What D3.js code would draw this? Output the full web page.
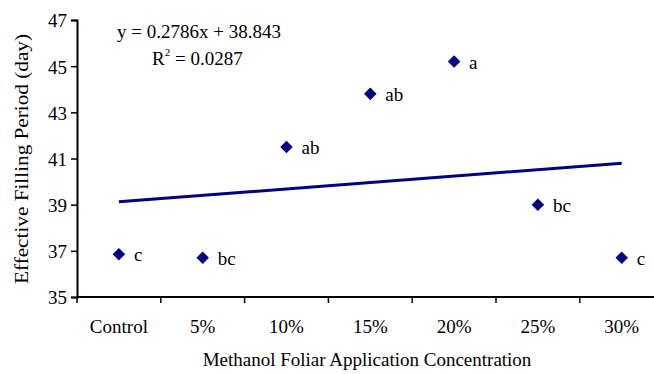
<!DOCTYPE html>
<html>
<head>
<meta charset="utf-8">
<script src="https://cdn.jsdelivr.net/npm/d3@7"></script>
<style>
  body { margin: 0; background: #fff; }
  svg text { font-family: "Liberation Serif", "Times New Roman", serif; fill: #000; }
</style>
</head>
<body>
<svg id="chart" width="654" height="374" font-family="Liberation Serif"></svg>
<script>
// data
const categories = ['Control', '5%', '10%', '15%', '20%', '25%', '30%'];
const fillingPeriod = [36.85, 36.7, 41.5, 43.8, 45.2, 39.0, 36.7];
const letters = ['c', 'bc', 'ab', 'ab', 'a', 'bc', 'c'];
const yTicks = [35, 37, 39, 41, 43, 45, 47];
const trendSlope = 0.2786;
const trendIntercept = 38.843;
const rSquared = 0.0287;

const svg = d3.select('#chart');
const navy = '#000080';
const serif = '"Liberation Serif", serif';

const plotLeft = 77, plotTop = 20, plotBottom = 297;
const step = 83.8;

const x = d3.scaleBand().domain(categories).range([plotLeft, plotLeft + step * categories.length]).padding(0);
const y = d3.scaleLinear().domain([35, 47]).range([plotBottom, plotTop]);

// y axis
const yAxis = svg.append('g').attr('transform', `translate(${plotLeft},0)`)
  .call(d3.axisLeft(y).tickValues(yTicks).tickSize(6).tickPadding(4).tickFormat(d3.format('d')));
yAxis.attr('font-family', serif).attr('font-size', 19);
yAxis.select('.domain').attr('stroke', '#000').attr('stroke-width', 2);
yAxis.selectAll('.tick line').attr('stroke', '#000').attr('stroke-width', 1.5);
yAxis.selectAll('.tick text').attr('dy', '0.36em');

// x axis: ticks sit between categories
const xAxis = svg.append('g').attr('transform', `translate(0,${plotBottom})`);
xAxis.append('line').attr('x1', plotLeft).attr('x2', x.range()[1]).attr('stroke', '#000').attr('stroke-width', 2);
xAxis.selectAll('.bound').data(categories).enter().append('line')
  .attr('x1', d => x(d)).attr('x2', d => x(d)).attr('y1', 0).attr('y2', 6)
  .attr('stroke', '#000').attr('stroke-width', 1.5);
xAxis.selectAll('.cat').data(categories).enter().append('text')
  .attr('x', d => x(d) + x.bandwidth() / 2).attr('y', 36)
  .attr('text-anchor', 'middle').attr('font-size', 19).text(d => d);

// trend line
const trend = d3.line()
  .x(i => x(categories[i]) + x.bandwidth() / 2)
  .y(i => y(trendSlope * (i + 1) + trendIntercept));
svg.append('path').datum([0, categories.length - 1])
  .attr('d', trend).attr('fill', 'none').attr('stroke', navy).attr('stroke-width', 3);

// markers
const pts = categories.map((c, i) => ({ c, v: fillingPeriod[i], l: letters[i] }));
svg.selectAll('.pt').data(pts).enter().append('path')
  .attr('d', d3.symbol().type(d3.symbolDiamond2).size(100))
  .attr('transform', d => `translate(${x(d.c) + x.bandwidth() / 2},${y(d.v)})`)
  .attr('fill', navy);
svg.selectAll('.lbl').data(pts).enter().append('text')
  .attr('x', d => x(d.c) + x.bandwidth() / 2 + 15).attr('y', d => y(d.v) + 7)
  .attr('font-size', 19).text(d => d.l);

// equation
svg.append('text').attr('x', 199).attr('y', 38).attr('text-anchor', 'middle').attr('font-size', 19)
  .text(`y = ${trendSlope}x + ${trendIntercept}`);
const r2 = svg.append('text').attr('x', 152).attr('y', 65).attr('font-size', 19);
r2.append('tspan').text('R');
r2.append('tspan').attr('font-size', 11).attr('dy', -9).text('2');
r2.append('tspan').attr('dy', 9).text(` = ${rSquared}`);

// axis titles
svg.append('text').attr('x', 367).attr('y', 366).attr('text-anchor', 'middle').attr('font-size', 19)
  .text('Methanol Foliar Application Concentration');
svg.append('text').attr('transform', 'translate(28,159) rotate(-90)').attr('text-anchor', 'middle')
  .attr('font-size', 19.5).attr('textLength', 250).attr('lengthAdjust', 'spacingAndGlyphs')
  .text('Effective Filling Period (day)');
</script>
</body>
</html>
